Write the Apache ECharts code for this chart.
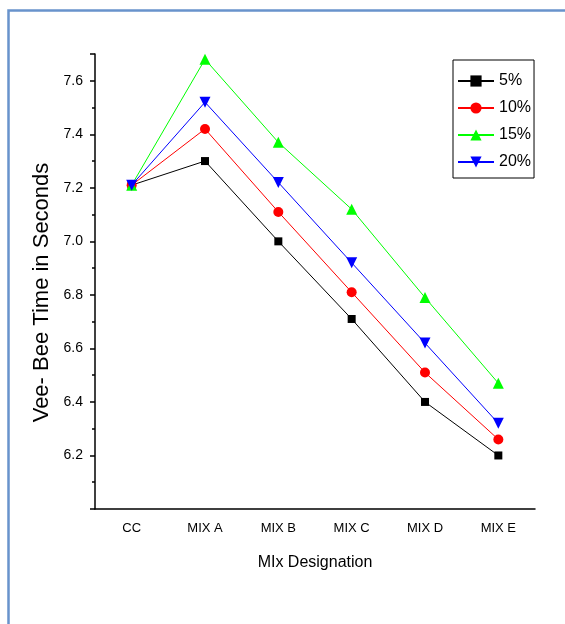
<!DOCTYPE html>
<html>
<head>
<meta charset="utf-8">
<script src="https://cdn.jsdelivr.net/npm/echarts@6/dist/echarts.min.js"></script>
<style>
html,body{margin:0;padding:0;background:#fff;}
#c{width:565px;height:624px;}
</style>
</head>
<body>
<div id="c"></div>
<script>
var categories = ['CC', 'MIX A', 'MIX B', 'MIX C', 'MIX D', 'MIX E'];
var seriesNames = ['5%', '10%', '15%', '20%'];
var values5 = [7.21, 7.30, 7.00, 6.71, 6.40, 6.20];
var values10 = [7.21, 7.42, 7.11, 6.81, 6.51, 6.26];
var values15 = [7.21, 7.68, 7.37, 7.12, 6.79, 6.47];
var values20 = [7.21, 7.52, 7.22, 6.92, 6.62, 6.32];
var yTickLabels = ['6.2', '6.4', '6.6', '6.8', '7.0', '7.2', '7.4', '7.6'];

var font = "'Liberation Sans', Arial, sans-serif";

var chart = echarts.init(document.getElementById('c'), null, {renderer: 'canvas'});

function mk(name, data, color, symbol, size) {
  return {
    name: name, type: 'line', data: data, xAxisIndex: 0,
    symbol: symbol, symbolSize: size,
    lineStyle: {color: color, width: 1},
    itemStyle: {color: color},
    emphasis: {disabled: true},
    animation: false
  };
}

var option = {
  backgroundColor: '#fff',
  animation: false,
  graphic: [{
    type: 'rect', left: 6, top: 8, silent: true,
    shape: {width: 620, height: 700},
    style: {fill: 'none', stroke: '#6893cc', lineWidth: 2.5}
  }],
  grid: {left: 95, top: 54, right: 30, bottom: 115, containLabel: false},
  legend: {
    orient: 'vertical', left: 453, top: 60,
    data: seriesNames,
    itemWidth: 36, itemHeight: 14, itemGap: 9,
    padding: [12, 3, 7, 4],
    borderColor: '#000', borderWidth: 1,
    textStyle: {fontFamily: font, fontSize: 16, color: '#000', lineHeight: 18}
  },
  xAxis: [{
    type: 'category', data: categories, boundaryGap: true,
    axisLine: {lineStyle: {color: '#000', width: 1.5}},
    axisTick: {alignWithLabel: true, length: 7, lineStyle: {color: '#000', width: 1.5}},
    axisLabel: {fontFamily: font, fontSize: 13, color: '#000', margin: 13},
    name: 'MIx Designation', nameLocation: 'middle', nameGap: 46,
    nameTextStyle: {fontFamily: font, fontSize: 16, color: '#000'},
    splitLine: {show: false}
  }, {
    type: 'category', data: categories, boundaryGap: true, position: 'bottom',
    axisLine: {show: false},
    axisTick: {length: 4, lineStyle: {color: '#000', width: 1.5}},
    axisLabel: {show: false},
    splitLine: {show: false}
  }],
  yAxis: {
    type: 'value', min: 6.0, max: 7.7, interval: 0.2,
    axisLine: {show: true, lineStyle: {color: '#000', width: 1.5}},
    axisTick: {show: true, length: 5, lineStyle: {color: '#000', width: 1.5}},
    minorTick: {show: true, splitNumber: 2, length: 3, lineStyle: {color: '#000', width: 1.5}},
    splitLine: {show: false},
    axisLabel: {
      fontFamily: font, fontSize: 14, color: '#000', margin: 12,
      formatter: function (v) {
        var s = v.toFixed(1);
        return yTickLabels.indexOf(s) >= 0 ? s : '';
      }
    },
    name: 'Vee- Bee Time in Seconds', nameLocation: 'middle', nameGap: 36,
    nameTextStyle: {fontFamily: font, fontSize: 22, color: '#000', padding: [0, 22, 0, 0]}
  },
  series: [
    mk(seriesNames[0], values5, '#000000', 'rect', 8),
    mk(seriesNames[1], values10, '#ff0000', 'circle', 10),
    mk(seriesNames[2], values15, '#00ff00', 'triangle', 11),
    mk(seriesNames[3], values20, '#0000ff', 'path://M0,0 L10,0 L5,9 Z', 11)
  ]
};
chart.setOption(option);
</script>
</body>
</html>
